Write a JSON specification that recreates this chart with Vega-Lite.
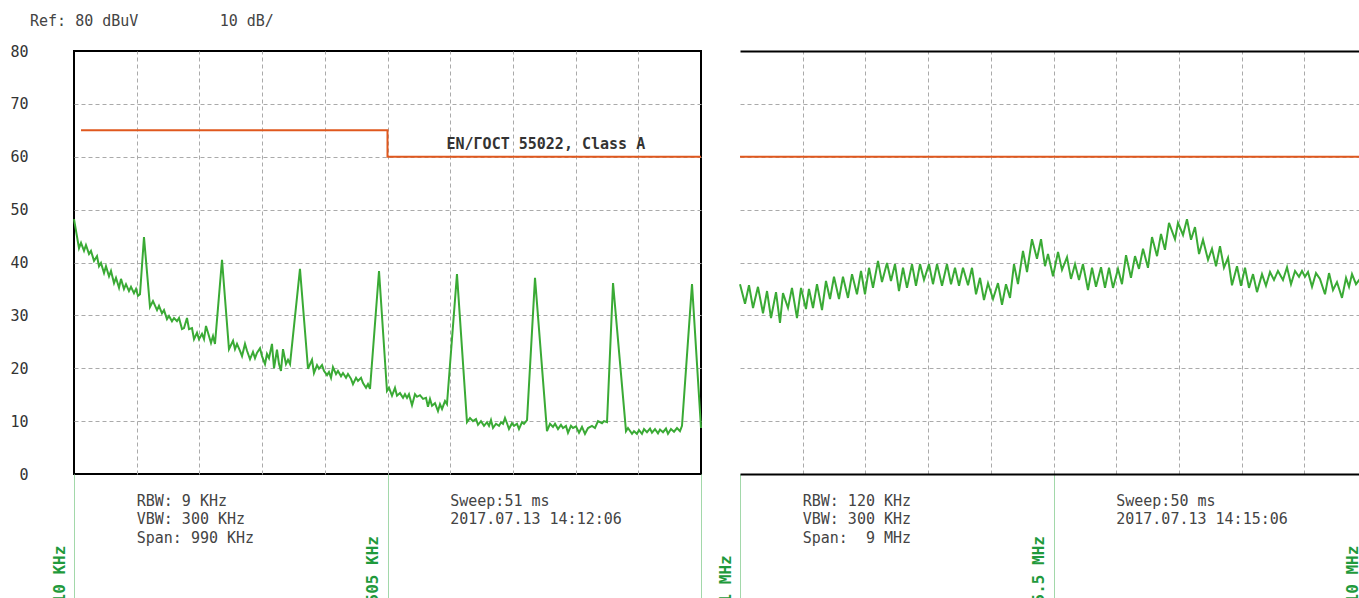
{
  "$schema": "https://vega.github.io/schema/vega-lite/v6.json",
  "background": "white",
  "padding": {"left": 8, "top": 14, "right": 0, "bottom": 0},
  "bounds": "flush",
  "spacing": 39,
  "title": {"text": "Ref: 80 dBuV\u00a0\u00a0\u00a0\u00a0\u00a0\u00a0\u00a0\u00a0\u00a010 dB/", "anchor": "start", "frame": "group", "dx": -44, "offset": 14, "font": "DejaVu Sans Mono", "fontSize": 15, "fontWeight": "normal", "color": "#444444"},
  "config": {
    "view": {"stroke": null},
    "font": "DejaVu Sans Mono",
    "axis": {"labelFont": "DejaVu Sans Mono", "labelColor": "#333333", "labelFontSize": 15, "gridColor": "#aaaaaa", "gridDash": [4, 3], "gridWidth": 1, "ticks": false, "domain": false, "labelFlush": false, "labelOverlap": false, "labelBound": false}
  },
  "datasets": {
    "left": [
      {"f":10,"v":48.2},{"f":17.9,"v":42.7},{"f":21.1,"v":43.7},{"f":25.8,"v":42.2},{"f":28.9,"v":43.3},{"f":33.7,"v":41.6},{"f":36.8,"v":42.2},{"f":41.6,"v":40.3},{"f":46.3,"v":41.2},{"f":49.5,"v":39.3},{"f":52.6,"v":39.9},{"f":57.4,"v":38.0},{"f":60.5,"v":39.3},{"f":65.3,"v":37.4},{"f":68.4,"v":38.4},{"f":73.2,"v":36.1},{"f":76.3,"v":37.1},{"f":81.1,"v":35.2},{"f":84.2,"v":36.9},{"f":88.9,"v":35.0},{"f":92.1,"v":35.9},{"f":96.8,"v":34.6},{"f":100,"v":35.4},{"f":104.7,"v":34.2},{"f":107.9,"v":35.0},{"f":111.1,"v":33.7},{"f":114.2,"v":34.0},{"f":120.5,"v":44.8},{"f":130,"v":31.6},{"f":134.7,"v":32.7},{"f":141.1,"v":31.0},{"f":144.2,"v":31.8},{"f":148.9,"v":30.4},{"f":152.1,"v":31.0},{"f":156.8,"v":29.3},{"f":160,"v":29.9},{"f":164.7,"v":28.9},{"f":167.9,"v":29.5},{"f":172.6,"v":28.9},{"f":175.8,"v":29.5},{"f":180.5,"v":27.4},{"f":183.7,"v":27.6},{"f":188.4,"v":29.5},{"f":191.6,"v":27.4},{"f":196.3,"v":27.6},{"f":199.5,"v":25.5},{"f":204.2,"v":26.7},{"f":207.4,"v":25.5},{"f":212.1,"v":26.5},{"f":215.3,"v":25.5},{"f":218.4,"v":28.0},{"f":221.6,"v":26.7},{"f":226.3,"v":24.8},{"f":229.5,"v":26.1},{"f":232.6,"v":24.6},{"f":243.7,"v":40.5},{"f":254.7,"v":23.6},{"f":261.1,"v":25.2},{"f":264.2,"v":23.6},{"f":267.4,"v":24.6},{"f":272.1,"v":23.3},{"f":275.3,"v":22.3},{"f":280,"v":24.6},{"f":283.2,"v":23.3},{"f":287.9,"v":21.7},{"f":292.6,"v":23.1},{"f":295.8,"v":21.9},{"f":298.9,"v":22.9},{"f":303.7,"v":23.8},{"f":306.8,"v":22.3},{"f":311.6,"v":20.8},{"f":314.7,"v":22.7},{"f":317.9,"v":21.9},{"f":322.6,"v":24.6},{"f":325.8,"v":20.0},{"f":330.5,"v":23.5},{"f":333.7,"v":20.8},{"f":336.8,"v":19.5},{"f":340,"v":23.6},{"f":344.7,"v":20.8},{"f":347.9,"v":21.6},{"f":351.1,"v":20.8},{"f":366.8,"v":38.8},{"f":379.5,"v":19.9},{"f":385.8,"v":21.6},{"f":388.9,"v":19.1},{"f":393.7,"v":20.6},{"f":396.8,"v":19.9},{"f":401.6,"v":20.6},{"f":404.7,"v":19.5},{"f":409.5,"v":18.7},{"f":412.6,"v":19.3},{"f":415.8,"v":18.2},{"f":418.9,"v":20.2},{"f":423.7,"v":18.9},{"f":426.8,"v":19.5},{"f":431.6,"v":18.5},{"f":434.7,"v":19.1},{"f":439.5,"v":18.2},{"f":442.6,"v":18.9},{"f":447.4,"v":18.0},{"f":450.5,"v":17.0},{"f":455.3,"v":18.2},{"f":458.4,"v":17.6},{"f":463.2,"v":18.2},{"f":466.3,"v":17.2},{"f":471.1,"v":16.3},{"f":474.2,"v":17.0},{"f":477.4,"v":16.1},{"f":491.6,"v":38.4},{"f":504.2,"v":15.7},{"f":507.4,"v":16.3},{"f":512.1,"v":14.8},{"f":516.8,"v":16.3},{"f":520,"v":14.8},{"f":524.7,"v":15.3},{"f":529.5,"v":14.4},{"f":532.6,"v":15.1},{"f":535.8,"v":14.4},{"f":538.9,"v":15.1},{"f":543.7,"v":13.0},{"f":548.4,"v":15.1},{"f":551.6,"v":14.6},{"f":556.3,"v":14.9},{"f":561.1,"v":14.2},{"f":565.8,"v":14.4},{"f":568.9,"v":12.7},{"f":572.1,"v":14.2},{"f":575.3,"v":12.9},{"f":580,"v":13.4},{"f":584.7,"v":11.9},{"f":587.9,"v":13.2},{"f":591.1,"v":12.3},{"f":595.8,"v":13.8},{"f":598.9,"v":13.2},{"f":614.7,"v":37.8},{"f":630.5,"v":9.8},{"f":635.3,"v":10.6},{"f":640,"v":10.0},{"f":644.7,"v":10.4},{"f":647.9,"v":9.3},{"f":652.6,"v":10.0},{"f":657.4,"v":9.1},{"f":662.1,"v":9.8},{"f":665.3,"v":9.1},{"f":668.4,"v":10.2},{"f":671.6,"v":8.7},{"f":676.3,"v":9.5},{"f":681.1,"v":9.1},{"f":684.2,"v":9.8},{"f":687.4,"v":9.5},{"f":690.5,"v":10.6},{"f":693.7,"v":9.6},{"f":696.8,"v":8.5},{"f":701.6,"v":9.6},{"f":704.7,"v":9.1},{"f":709.5,"v":9.5},{"f":712.6,"v":8.5},{"f":717.4,"v":9.8},{"f":720.5,"v":9.5},{"f":725.3,"v":10.2},{"f":737.9,"v":37.1},{"f":756.8,"v":8.1},{"f":761.6,"v":9.5},{"f":766.3,"v":8.9},{"f":769.5,"v":9.5},{"f":774.2,"v":8.5},{"f":778.9,"v":9.3},{"f":782.1,"v":8.7},{"f":786.8,"v":9.1},{"f":790,"v":7.8},{"f":794.7,"v":9.1},{"f":797.9,"v":8.7},{"f":802.6,"v":9.0},{"f":807.4,"v":7.8},{"f":812.1,"v":8.9},{"f":816.8,"v":7.6},{"f":821.6,"v":8.7},{"f":827.9,"v":9.1},{"f":832.6,"v":8.7},{"f":837.4,"v":10.0},{"f":843.7,"v":9.6},{"f":846.8,"v":10.0},{"f":851.6,"v":9.8},{"f":861.1,"v":36.1},{"f":881.6,"v":8.1},{"f":884.7,"v":8.7},{"f":891.1,"v":7.6},{"f":894.2,"v":8.1},{"f":898.9,"v":7.6},{"f":902.1,"v":8.3},{"f":906.8,"v":7.6},{"f":910,"v":8.5},{"f":914.7,"v":7.9},{"f":919.5,"v":8.6},{"f":922.6,"v":7.8},{"f":927.4,"v":8.5},{"f":932.1,"v":7.7},{"f":935.3,"v":8.4},{"f":940,"v":7.9},{"f":944.7,"v":8.6},{"f":947.9,"v":7.6},{"f":952.6,"v":8.5},{"f":957.4,"v":8.0},{"f":962.1,"v":8.7},{"f":966.8,"v":8.1},{"f":970,"v":9.1},{"f":985.8,"v":35.9},{"f":1000,"v":8.7}
    ],
    "right": [
      {"f":1.000,"v":35.9},{"f":1.072,"v":32.2},{"f":1.129,"v":35.7},{"f":1.187,"v":31.4},{"f":1.258,"v":35.4},{"f":1.330,"v":30.4},{"f":1.388,"v":34.6},{"f":1.445,"v":29.5},{"f":1.517,"v":34.4},{"f":1.574,"v":28.6},{"f":1.617,"v":34.2},{"f":1.689,"v":31.4},{"f":1.746,"v":35.2},{"f":1.818,"v":29.5},{"f":1.876,"v":35.2},{"f":1.947,"v":31.2},{"f":1.990,"v":35.0},{"f":2.048,"v":31.4},{"f":2.105,"v":35.9},{"f":2.177,"v":31.0},{"f":2.234,"v":36.5},{"f":2.292,"v":33.1},{"f":2.349,"v":37.3},{"f":2.421,"v":33.1},{"f":2.478,"v":37.3},{"f":2.550,"v":33.3},{"f":2.608,"v":37.8},{"f":2.679,"v":34.0},{"f":2.737,"v":38.4},{"f":2.794,"v":34.0},{"f":2.852,"v":39.0},{"f":2.909,"v":35.2},{"f":2.981,"v":40.3},{"f":3.038,"v":36.3},{"f":3.110,"v":39.9},{"f":3.167,"v":36.5},{"f":3.225,"v":39.7},{"f":3.282,"v":34.6},{"f":3.340,"v":39.0},{"f":3.397,"v":35.2},{"f":3.469,"v":39.7},{"f":3.526,"v":35.6},{"f":3.584,"v":39.7},{"f":3.641,"v":36.7},{"f":3.713,"v":39.7},{"f":3.770,"v":35.9},{"f":3.828,"v":39.7},{"f":3.900,"v":35.6},{"f":3.971,"v":39.7},{"f":4.029,"v":35.9},{"f":4.086,"v":39.0},{"f":4.144,"v":35.6},{"f":4.201,"v":39.0},{"f":4.273,"v":35.7},{"f":4.330,"v":39.0},{"f":4.388,"v":34.0},{"f":4.445,"v":37.1},{"f":4.502,"v":32.9},{"f":4.560,"v":36.1},{"f":4.632,"v":33.1},{"f":4.703,"v":36.1},{"f":4.761,"v":32.0},{"f":4.818,"v":35.9},{"f":4.876,"v":33.3},{"f":4.933,"v":39.7},{"f":4.990,"v":35.9},{"f":5.062,"v":42.2},{"f":5.120,"v":38.2},{"f":5.191,"v":44.4},{"f":5.263,"v":40.7},{"f":5.321,"v":44.4},{"f":5.378,"v":39.3},{"f":5.421,"v":41.6},{"f":5.493,"v":37.4},{"f":5.565,"v":42.0},{"f":5.622,"v":38.6},{"f":5.694,"v":41.0},{"f":5.751,"v":36.9},{"f":5.809,"v":39.7},{"f":5.866,"v":36.7},{"f":5.923,"v":39.7},{"f":5.995,"v":34.8},{"f":6.053,"v":39.0},{"f":6.110,"v":35.4},{"f":6.182,"v":39.1},{"f":6.239,"v":35.2},{"f":6.297,"v":39.0},{"f":6.354,"v":35.2},{"f":6.426,"v":38.8},{"f":6.483,"v":35.9},{"f":6.541,"v":41.4},{"f":6.612,"v":37.1},{"f":6.670,"v":41.2},{"f":6.727,"v":38.8},{"f":6.785,"v":42.6},{"f":6.856,"v":39.0},{"f":6.914,"v":44.8},{"f":6.986,"v":41.2},{"f":7.043,"v":45.4},{"f":7.100,"v":42.4},{"f":7.158,"v":47.5},{"f":7.244,"v":44.4},{"f":7.287,"v":47.5},{"f":7.359,"v":45.2},{"f":7.416,"v":48.2},{"f":7.474,"v":44.3},{"f":7.531,"v":46.7},{"f":7.589,"v":41.6},{"f":7.646,"v":44.3},{"f":7.718,"v":40.5},{"f":7.775,"v":42.6},{"f":7.833,"v":39.3},{"f":7.890,"v":43.1},{"f":7.947,"v":39.0},{"f":8.005,"v":40.9},{"f":8.062,"v":35.7},{"f":8.134,"v":39.3},{"f":8.191,"v":35.6},{"f":8.249,"v":39.0},{"f":8.306,"v":35.2},{"f":8.364,"v":37.8},{"f":8.421,"v":34.4},{"f":8.493,"v":37.8},{"f":8.550,"v":35.6},{"f":8.608,"v":38.2},{"f":8.665,"v":36.7},{"f":8.722,"v":38.4},{"f":8.794,"v":36.7},{"f":8.852,"v":39.1},{"f":8.909,"v":35.9},{"f":8.967,"v":38.4},{"f":9.024,"v":37.3},{"f":9.067,"v":38.4},{"f":9.110,"v":37.3},{"f":9.153,"v":38.2},{"f":9.211,"v":35.4},{"f":9.268,"v":38.0},{"f":9.325,"v":36.9},{"f":9.397,"v":34.0},{"f":9.455,"v":38.0},{"f":9.512,"v":34.8},{"f":9.569,"v":36.3},{"f":9.641,"v":33.3},{"f":9.699,"v":37.1},{"f":9.742,"v":35.4},{"f":9.785,"v":37.8},{"f":9.842,"v":35.9},{"f":9.900,"v":36.9},{"f":9.957,"v":35.5},{"f":10.0,"v":36.5}
    ],
    "limitL": [{"f":21.1,"v":65},{"f":505,"v":60},{"f":1000,"v":60}],
    "limitR": [{"f":1,"v":60},{"f":10,"v":60}],
    "one": [{"n":1}]
  },
  "hconcat": [
    {
      "width": 627,
      "height": 423,
      "view": {"stroke": "#000000", "strokeWidth": 2},
      "resolve": {"axis": {"x": "independent", "y": "independent"}},
      "layer": [
        {
          "data": {"name": "left"},
          "mark": {"type": "line", "color": "#3aaa35", "strokeWidth": 2},
          "encoding": {
            "x": {"field": "f", "type": "quantitative", "scale": {"domain": [10, 1000], "nice": false, "zero": false},
                  "axis": {"orient": "top", "values": [109, 208, 307, 406, 505, 604, 703, 802, 901], "grid": true, "labels": false, "ticks": false, "domain": false, "title": null}},
            "y": {"field": "v", "type": "quantitative", "scale": {"domain": [0, 80], "nice": false, "zero": false},
                  "axis": {"values": [0, 10, 20, 30, 40, 50, 60, 70, 80], "grid": true, "gridOpacity": {"condition": {"test": "datum.value === 0 || datum.value === 80", "value": 0}, "value": 1}, "labelPadding": 46, "ticks": false, "domain": false, "title": null, "labelFontSize": 15, "labelColor": "#333333"}}
          }
        },
        {
          "data": {"name": "limitL"},
          "mark": {"type": "line", "color": "#e0581e", "strokeWidth": 2, "interpolate": "step-after"},
          "encoding": {
            "x": {"field": "f", "type": "quantitative",
                  "axis": {"orient": "bottom", "values": [10, 505, 1000], "grid": false, "domain": false, "ticks": true, "tickSize": 125, "tickColor": "#a2d8aa", "tickWidth": 1, "title": null,
                           "labelExpr": "datum.value == 10 ? '10 KHz' : (datum.value == 505 ? '505 KHz' : '')",
                           "labelAngle": 270, "labelAlign": "left", "labelBaseline": "bottom", "labelPadding": 4, "labelOffset": -7, "labelColor": "#1f9a3c", "labelFontWeight": "bold", "labelFontSize": 16}},
            "y": {"field": "v", "type": "quantitative", "axis": null}
          }
        },
        {
          "data": {"name": "one"},
          "mark": {"type": "text", "text": "EN/ГОСТ 55022, Class A", "font": "DejaVu Sans Mono", "fontSize": 15, "fontWeight": "bold", "color": "#333333", "align": "center", "baseline": "middle"},
          "encoding": {"x": {"datum": 755, "type": "quantitative", "axis": null}, "y": {"datum": 62.5, "type": "quantitative", "axis": null}}
        },
        {
          "data": {"name": "one"},
          "mark": {"type": "text", "text": ["RBW: 9 KHz", "VBW: 300 KHz", "Span: 990 KHz"], "font": "DejaVu Sans Mono", "fontSize": 15, "color": "#444444", "align": "left", "baseline": "top", "lineHeight": 18.3},
          "encoding": {"x": {"datum": 109, "type": "quantitative", "axis": null}, "y": {"datum": -3.78, "type": "quantitative", "axis": null}}
        },
        {
          "data": {"name": "one"},
          "mark": {"type": "text", "text": ["Sweep:51 ms", "2017.07.13 14:12:06"], "font": "DejaVu Sans Mono", "fontSize": 15, "color": "#444444", "align": "left", "baseline": "top", "lineHeight": 18.3},
          "encoding": {"x": {"datum": 604, "type": "quantitative", "axis": null}, "y": {"datum": -3.78, "type": "quantitative", "axis": null}}
        }
      ]
    },
    {
      "width": 627,
      "height": 423,
      "resolve": {"axis": {"x": "independent", "y": "independent"}},
      "layer": [
        {
          "data": {"name": "right"},
          "mark": {"type": "line", "color": "#3aaa35", "strokeWidth": 2},
          "encoding": {
            "x": {"field": "f", "type": "quantitative", "scale": {"domain": [1, 10], "nice": false, "zero": false},
                  "axis": {"orient": "top", "values": [1.9, 2.8, 3.7, 4.6, 5.5, 6.4, 7.3, 8.2, 9.1], "grid": true, "labels": false, "ticks": false, "domain": true, "domainColor": "#000000", "domainWidth": 2, "title": null}},
            "y": {"field": "v", "type": "quantitative", "scale": {"domain": [0, 80], "nice": false, "zero": false},
                  "axis": {"values": [10, 20, 30, 40, 50, 60, 70], "grid": true, "labels": false, "ticks": false, "domain": false, "title": null, "minExtent": 0, "maxExtent": 0}}
          }
        },
        {
          "data": {"name": "limitR"},
          "mark": {"type": "line", "color": "#e0581e", "strokeWidth": 2},
          "encoding": {
            "x": {"field": "f", "type": "quantitative",
                  "axis": {"orient": "bottom", "values": [1, 5.5, 10], "grid": false, "domain": true, "domainColor": "#000000", "domainWidth": 2, "ticks": true, "tickSize": 125, "tickColor": "#a2d8aa", "tickWidth": 1, "title": null,
                           "labelExpr": "datum.value == 1 ? '1 MHz' : (datum.value == 10 ? '10 MHz' : '5.5 MHz')",
                           "labelAngle": 270, "labelAlign": "left", "labelBaseline": "bottom", "labelPadding": 4, "labelOffset": -7, "labelColor": "#1f9a3c", "labelFontWeight": "bold", "labelFontSize": 16}},
            "y": {"field": "v", "type": "quantitative", "axis": null}
          }
        },
        {
          "data": {"name": "one"},
          "mark": {"type": "text", "text": ["RBW: 120 KHz", "VBW: 300 KHz", "Span:\u00a0\u00a09 MHz"], "font": "DejaVu Sans Mono", "fontSize": 15, "color": "#444444", "align": "left", "baseline": "top", "lineHeight": 18.3},
          "encoding": {"x": {"datum": 1.9, "type": "quantitative", "axis": null}, "y": {"datum": -3.78, "type": "quantitative", "axis": null}}
        },
        {
          "data": {"name": "one"},
          "mark": {"type": "text", "text": ["Sweep:50 ms", "2017.07.13 14:15:06"], "font": "DejaVu Sans Mono", "fontSize": 15, "color": "#444444", "align": "left", "baseline": "top", "lineHeight": 18.3},
          "encoding": {"x": {"datum": 6.4, "type": "quantitative", "axis": null}, "y": {"datum": -3.78, "type": "quantitative", "axis": null}}
        }
      ]
    }
  ]
}
